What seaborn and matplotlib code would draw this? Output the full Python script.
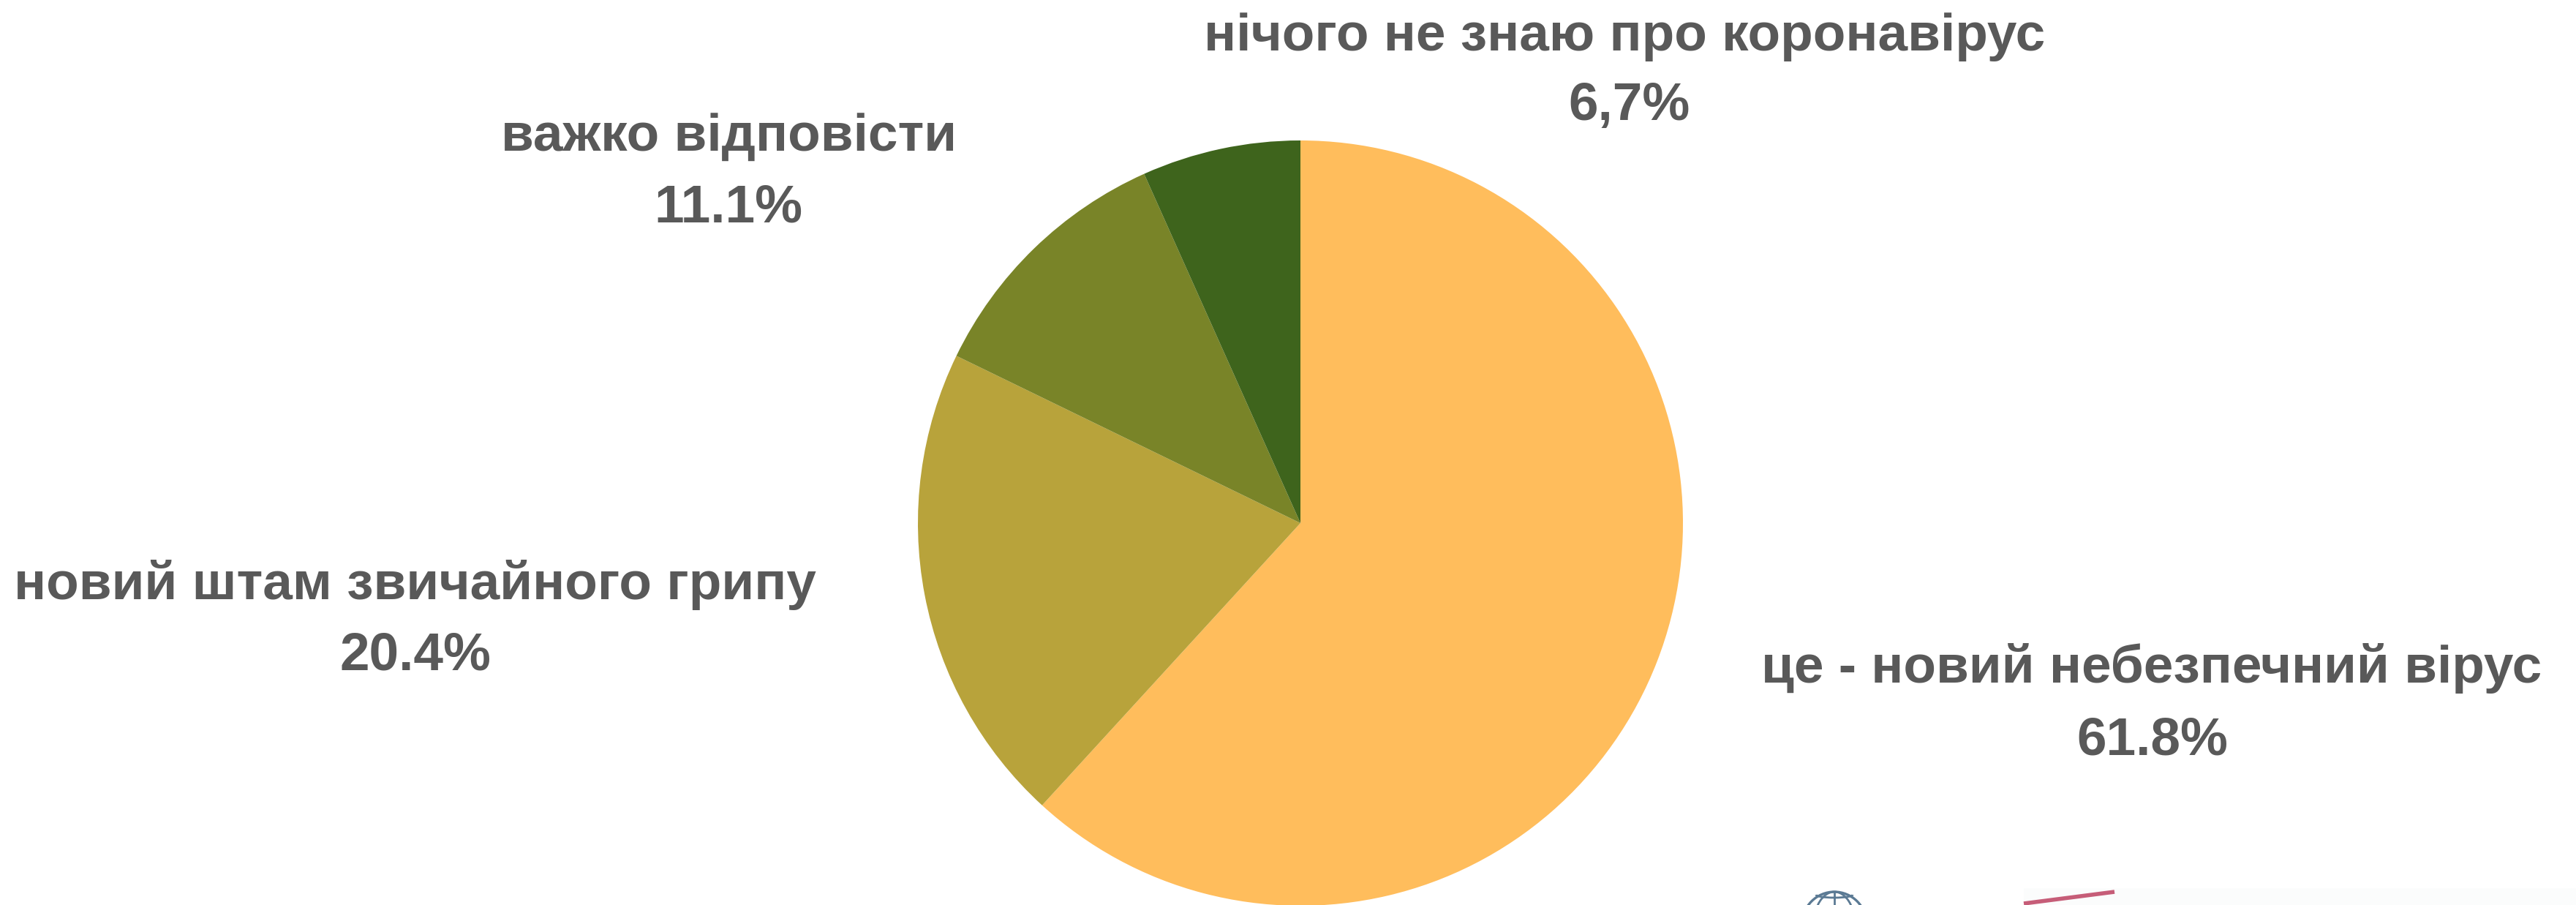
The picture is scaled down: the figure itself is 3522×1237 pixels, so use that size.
import matplotlib
matplotlib.use("Agg")
import matplotlib.pyplot as plt
import seaborn as sns
from matplotlib.patches import Arc, Circle, Ellipse, Rectangle

sns.set_theme(style="white")
plt.rcParams['font.family'] = ['Liberation Sans', 'DejaVu Sans']

# ----------------------------
# Data
# ----------------------------
labels = ["це - новий небезпечний вірус", "новий штам звичайного грипу",
          "важко відповісти", "нічого не знаю про коронавірус"]
shares = [61.8, 20.4, 11.1, 6.7]
share_text = ["61.8%", "20.4%", "11.1%", "6,7%"]
colors = ["#FFBD5C", "#B8A33B", "#798428", "#3E641C"]

W, H = 3523, 1237
text_color = "#595959"

fig = plt.figure(figsize=(W / 100, H / 100), dpi=100, facecolor="white")
# axes in pixel coordinates of the full picture, y going down
ax = fig.add_axes([0, 0, 1, 1])
ax.set_xlim(0, W)
ax.set_ylim(H, 0)
ax.axis("off")

# ----------------------------
# Pie
# ----------------------------
pie_ax = fig.add_axes([(1778 - 523) / W, 1 - (715 + 523) / H, 1046 / W, 1046 / H])
pie_ax.pie(shares, colors=colors, startangle=90, counterclock=False, radius=1.0,
           wedgeprops={"linewidth": 0})
pie_ax.set_xlim(-1, 1)
pie_ax.set_ylim(-1, 1)

# ----------------------------
# Labels
# ----------------------------
label_pos = [(2942, 2943, 914, 1013), (568, 568, 799, 897),
             (997, 996, 188, 285), (2221, 2228, 50, 145)]
for name, value, (x1, x2, y1, y2) in zip(labels, share_text, label_pos):
    ax.text(x1, y1, name, fontsize=52.6, fontweight="bold", color=text_color, ha="center", va="center")
    ax.text(x2, y2, value, fontsize=52.6, fontweight="bold", color=text_color, ha="center", va="center")

# ----------------------------
# Logo fragments at the bottom edge
# ----------------------------
ax.add_patch(Rectangle((2767, 1214), W - 2767, 23, facecolor="#FBFCFC", edgecolor="none"))
ax.plot([2767, 2891], [1235, 1219], color="#C65D78", lw=4, solid_capstyle="butt")
globe = "#5B7A94"
ax.add_patch(Circle((2508, 1263), 44, fill=False, edgecolor=globe, lw=2.4))
ax.add_patch(Ellipse((2508, 1263), 56, 88, fill=False, edgecolor=globe, lw=2))
ax.add_patch(Arc((2508, 1223), 50, 8, theta1=0, theta2=180, edgecolor=globe, lw=2))
ax.plot([2508, 2508], [1219, 1237], color=globe, lw=2)
ax.set_xlim(0, W)
ax.set_ylim(H, 0)

fig.savefig("out.png", dpi=100, facecolor="white")
